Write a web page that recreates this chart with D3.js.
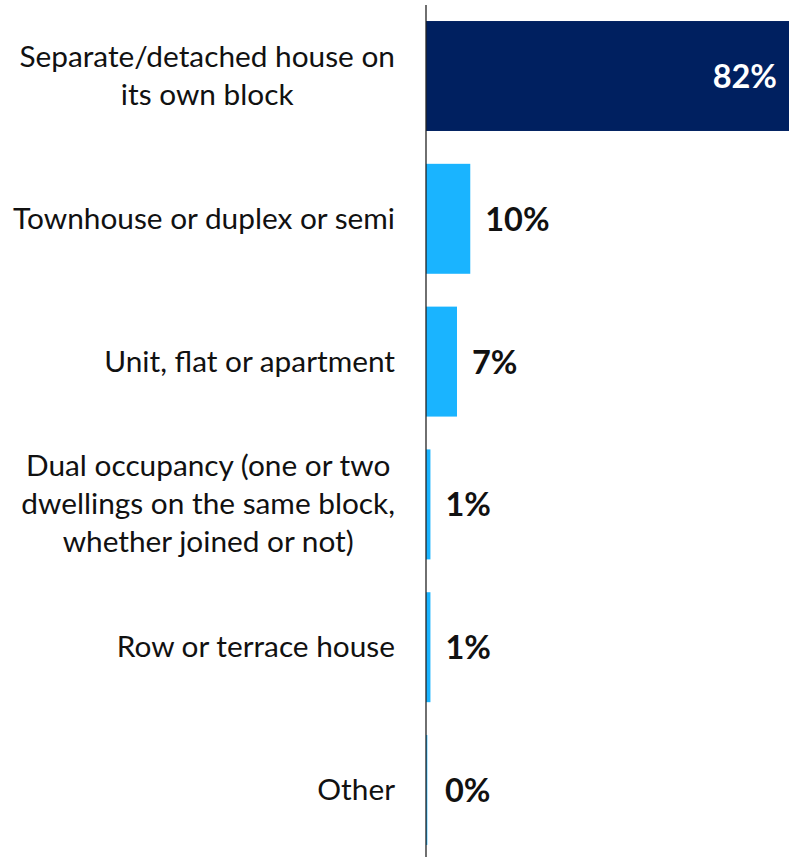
<!DOCTYPE html>
<html><head><meta charset="utf-8">
<script src="https://cdn.jsdelivr.net/npm/d3@7"></script>
<style>body{margin:0;background:#fff}svg{display:block}</style>
</head><body>
<svg id="c" width="789" height="857"></svg>
<script>
const categories = [
  ["Separate/detached house on", "its own block"],
  ["Townhouse or duplex or semi"],
  ["Unit, flat or apartment"],
  ["Dual occupancy (one or two", "dwellings on the same block,", "whether joined or not)"],
  ["Row or terrace house"],
  ["Other"]
];
const values = [82, 10, 7, 1, 1, 0.3];
const valueLabels = ["82%", "10%", "7%", "1%", "1%", "0%"];
const barColors = ["#002060", "#1ab4ff", "#1ab4ff", "#1ab4ff", "#1ab4ff", "#1ab4ff"];

const svg = d3.select("#c");
const font = "Lato, 'Open Sans', sans-serif";
const x0 = 426;
const x = d3.scaleLinear().domain([0, 82]).range([x0, 789]);
const y = d3.scaleBand().domain(d3.range(values.length)).range([4.6, 861.4]).paddingInner(0.23).paddingOuter(0.115);

svg.selectAll("rect.bar").data(values).join("rect")
  .attr("class", "bar")
  .attr("x", x0)
  .attr("y", (d, i) => y(i))
  .attr("width", d => x(d) - x0)
  .attr("height", y.bandwidth())
  .attr("fill", (d, i) => barColors[i]);

svg.append("line").attr("x1", x0).attr("x2", x0).attr("y1", 5).attr("y2", 857)
  .attr("stroke", "#222").attr("stroke-width", 1.3);

// category labels: block right-aligned, lines centred within block
const lh = 38;
const rightEdge = 395;
categories.forEach((lines, i) => {
  const cy = y(i) + y.bandwidth() / 2;
  const t = svg.append("text").attr("text-anchor", "middle").attr("font-family", font)
    .attr("font-size", 29.8).attr("fill", "#111");
  const spans = lines.map((ln, k) => t.append("tspan")
      .attr("y", cy + (k - (lines.length - 1) / 2) * lh + 10).text(ln));
  const maxW = d3.max(spans, s => s.node().getComputedTextLength());
  spans.forEach(s => s.attr("x", rightEdge - maxW / 2));
});

// value labels
values.forEach((v, i) => {
  const cy = y(i) + y.bandwidth() / 2;
  const inside = i === 0;
  svg.append("text").attr("font-family", font).attr("font-weight", "bold")
    .attr("font-size", 32.5)
    .attr("text-anchor", inside ? "end" : "start")
    .attr("x", inside ? x(v) - 12 : Math.max(x(v), x0 + 4) + 15)
    .attr("y", cy + 12)
    .attr("fill", inside ? "#fff" : "#111")
    .text(valueLabels[i]);
});
</script>
</body></html>
